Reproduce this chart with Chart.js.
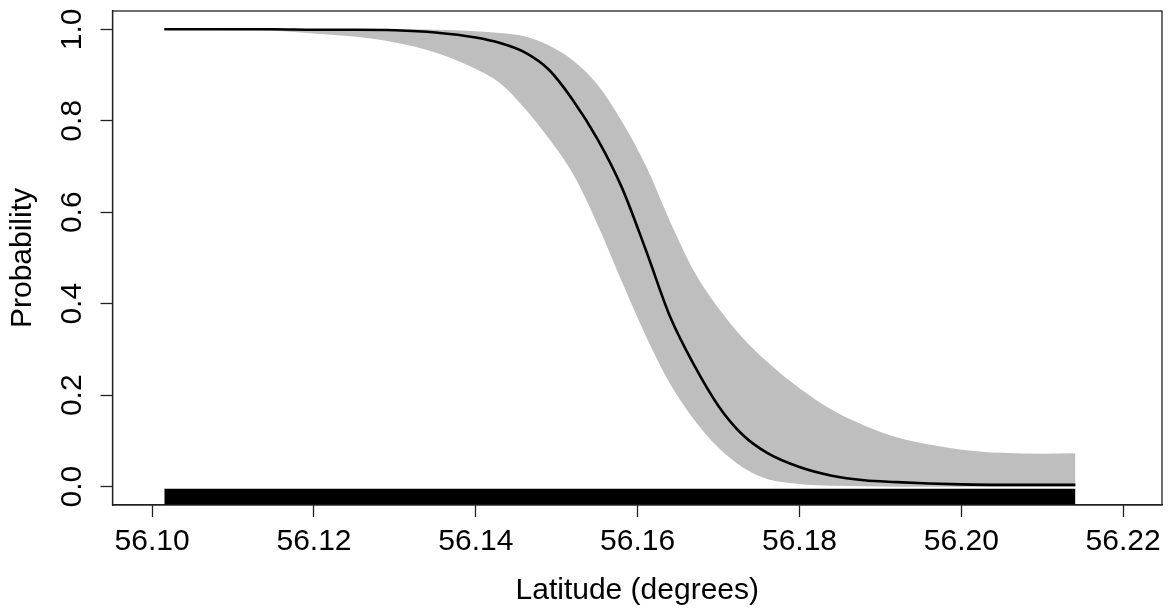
<!DOCTYPE html>
<html>
<head>
<meta charset="utf-8">
<script src="https://cdn.jsdelivr.net/npm/chart.js@4.4.1/dist/chart.umd.min.js"></script>
<style>
  body { margin: 0; background: #fff; }
  #wrap { width: 1170px; height: 615px; }
</style>
</head>
<body>
<div id="wrap"><canvas id="probChart" width="1170" height="615"></canvas></div>
<script>
// latitude grid and fitted probability (mean, lower and upper band)
const lat = [56.1015, 56.105, 56.110, 56.115, 56.120, 56.125, 56.130, 56.135, 56.140, 56.143,
  56.146, 56.149, 56.152, 56.155, 56.158, 56.161, 56.164, 56.167, 56.170, 56.173,
  56.176, 56.180, 56.184, 56.188, 56.192, 56.196, 56.200, 56.205, 56.210, 56.2141];
const meanProb = [1.000, 1.000, 1.000, 1.000, 0.999, 0.999, 0.998, 0.993, 0.982, 0.970,
  0.950, 0.912, 0.845, 0.761, 0.656, 0.518, 0.372, 0.265, 0.176, 0.113,
  0.074, 0.043, 0.024, 0.014, 0.010, 0.007, 0.005, 0.004, 0.004, 0.004];
const upperProb = [1.000, 1.000, 1.000, 1.000, 1.000, 1.000, 1.000, 0.999, 0.996, 0.992,
  0.985, 0.965, 0.932, 0.880, 0.800, 0.702, 0.580, 0.470, 0.390, 0.325,
  0.273, 0.215, 0.168, 0.134, 0.108, 0.092, 0.081, 0.074, 0.072, 0.073];
const lowerProb = [0.999, 0.999, 0.998, 0.997, 0.991, 0.984, 0.971, 0.949, 0.913, 0.882,
  0.828, 0.762, 0.684, 0.575, 0.450, 0.330, 0.225, 0.146, 0.085, 0.042,
  0.017, 0.006, 0.002, 0.001, 0.000, 0.000, 0.000, 0.000, 0.000, 0.000];

// observations rug (dense, shown as a solid strip)
const rugLat = [56.1015, 56.2141];
const rugTop = -0.0045;

const xTicks = [56.10, 56.12, 56.14, 56.16, 56.18, 56.20, 56.22];
const yTicks = [0.0, 0.2, 0.4, 0.6, 0.8, 1.0];

const pts = (ys) => lat.map((x, i) => ({ x: x, y: ys[i] }));
const FONT = 'Liberation Sans, Arial, sans-serif';

// box around the plot region, like R's box()
const boxPlugin = {
  id: 'box',
  afterDraw(chart) {
    const a = chart.chartArea, c = chart.ctx;
    c.save();
    c.strokeStyle = '#222';
    c.lineWidth = 1.3;
    c.strokeRect(a.left, a.top, a.right - a.left, a.bottom - a.top);
    c.restore();
  }
};

const ctx = document.getElementById('probChart').getContext('2d');
new Chart(ctx, {
  type: 'line',
  data: {
    datasets: [
      {
        label: 'mean',
        data: pts(meanProb),
        borderColor: '#000',
        borderWidth: 2.6,
        pointRadius: 0,
        cubicInterpolationMode: 'monotone',
        fill: false
      },
      {
        label: 'upper',
        data: pts(upperProb),
        borderColor: 'transparent',
        borderWidth: 0,
        pointRadius: 0,
        cubicInterpolationMode: 'monotone',
        backgroundColor: '#bebebe',
        fill: '+1'
      },
      {
        label: 'lower',
        data: pts(lowerProb),
        borderColor: 'transparent',
        borderWidth: 0,
        pointRadius: 0,
        cubicInterpolationMode: 'monotone',
        fill: false
      },
      {
        label: 'rug',
        data: rugLat.map(x => ({ x: x, y: rugTop })),
        borderColor: 'transparent',
        borderWidth: 0,
        pointRadius: 0,
        backgroundColor: '#000',
        fill: 'start'
      }
    ]
  },
  options: {
    responsive: false,
    animation: false,
    layout: { padding: { left: 0, top: 11, right: 8, bottom: 0 } },
    plugins: {
      legend: { display: false },
      tooltip: { enabled: false }
    },
    scales: {
      x: {
        type: 'linear',
        min: 56.0951,
        max: 56.2248,
        afterFit: (s) => { s.height = 110; s.paddingLeft = 0; s.paddingRight = 0; },
        afterBuildTicks: (s) => { s.ticks = xTicks.map(v => ({ value: v })); },
        grid: { drawOnChartArea: false, drawTicks: true, tickLength: 12, tickColor: '#222', tickWidth: 1.3 },
        border: { display: true, color: '#222', width: 1.3 },
        ticks: {
          color: '#000',
          font: { family: FONT, size: 30 },
          padding: 7,
          maxRotation: 0,
          callback: (v) => v.toFixed(2)
        },
        title: {
          display: true,
          text: 'Latitude (degrees)',
          color: '#000',
          font: { family: FONT, size: 30 },
          padding: { bottom: 6 }
        }
      },
      y: {
        min: -0.04,
        max: 1.04,
        afterFit: (s) => { s.width = 112.5; s.paddingTop = 0; s.paddingBottom = 0; },
        afterBuildTicks: (s) => { s.ticks = yTicks.map(v => ({ value: v })); },
        grid: { drawOnChartArea: false, drawTicks: true, tickLength: 12, tickColor: '#222', tickWidth: 1.3 },
        border: { display: true, color: '#222', width: 1.3 },
        ticks: {
          color: '#000',
          font: { family: FONT, size: 30 },
          padding: 7,
          minRotation: 90,
          maxRotation: 90,
          crossAlign: 'center',
          callback: (v) => v.toFixed(1)
        },
        title: {
          display: true,
          text: 'Probability',
          color: '#000',
          font: { family: FONT, size: 30 },
          padding: { top: 5 }
        }
      }
    }
  },
  plugins: [boxPlugin]
});
</script>
</body>
</html>
